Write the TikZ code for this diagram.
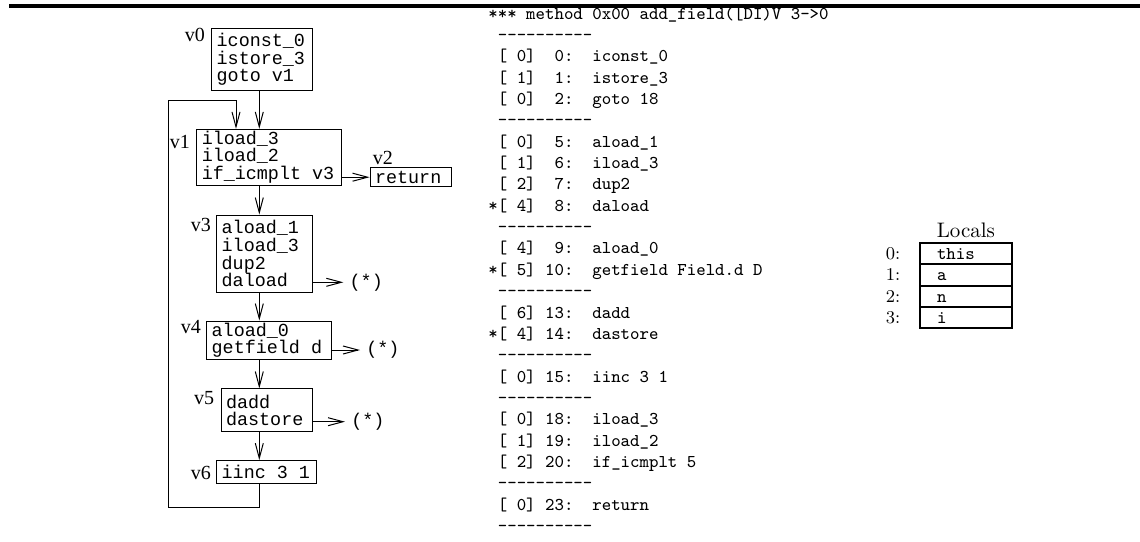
\documentclass[tikz,border=0pt]{standalone}
\usepackage{fontspec}
\usepackage{tikz}
\usetikzlibrary{arrows.meta, positioning, calc}
\newfontfamily\codefont{Liberation Mono}
\newfontfamily\lblfont{Liberation Serif}
\newcommand{\dashrow}{~-\kern0pt-\kern0pt-\kern0pt-\kern0pt-\kern0pt-\kern0pt-\kern0pt-\kern0pt-\kern0pt-}
\newcommand{\gap}{\hphantom{0}}

\begin{document}
\begin{tikzpicture}[x=0.5pt, y=-0.5pt,
  blk/.style={draw, line width=0.5pt, align=left, inner xsep=2.5pt, inner ysep=0pt,
    font=\fontsize{9.2}{8.85}\selectfont\codefont},
  vlbl/.style={font=\fontsize{10}{12}\selectfont\lblfont, inner sep=0pt, anchor=base east},
  star/.style={font=\fontsize{9.2}{11}\selectfont\codefont, inner sep=3pt, anchor=west},
  arr/.style={line width=0.5pt, -{Straight Barb[length=7.5pt, width=4pt]}},
  lst/.style={font=\fontsize{9}{11}\selectfont\ttfamily, inner sep=0pt, anchor=base west},
  cell/.style={draw, line width=1pt, minimum width=45.85pt, minimum height=10.7pt,
    text width=28.85pt, align=left, inner xsep=8.5pt, inner ysep=0pt,
    text height=6pt, text depth=0pt, font=\fontsize{9}{11}\selectfont\ttfamily},
  idx/.style={font=\fontsize{9}{11}\selectfont, inner sep=0pt, anchor=base east}
]
  \useasboundingbox (0,0) rectangle (1140,541);

  % rule on top
  \draw[line width=2pt] (9.3,6) -- (1140,6);

  % basic blocks
  \node[blk, text width=45.5pt, minimum height=31.2pt] (v0) at (262.2,59.5) {iconst\_0\\istore\_3\\goto\gap v1};
  \node[blk, text width=67.15pt, minimum height=27.85pt] (v1) at (268.9,157.2) {iload\_3\\iload\_2\\if\_icmplt\gap v3};
  \node[blk, text width=35.85pt, minimum height=9.5pt] (v2) at (410.9,177.2) {return};
  \node[blk, text width=42.8pt, minimum height=38.65pt] (v3) at (264.5,253.7) {aload\_1\\iload\_3\\dup2\\daload};
  \node[blk, text width=57.5pt, minimum height=19.15pt] (v4) at (269.2,340.2) {aload\_0\\getfield\gap d};
  \node[blk, text width=40.65pt, minimum height=21.35pt] (v5) at (266.7,410.3) {dadd\\dastore};
  \node[blk, text width=45pt, minimum height=11.65pt] (v6) at (266.7,472.3) {iinc\gap 3\gap 1};

  % block names
  \node[vlbl] (l0) at ([xshift=-3pt, yshift=-6.85pt]v0.north west) {v0};
  \node[vlbl] (l1) at ([xshift=-3pt, yshift=-9.85pt]v1.north west) {v1};
  \node[vlbl, anchor=base west] (l2) at ([xshift=1.5pt, yshift=1.6pt]v2.north west) {v2};
  \node[vlbl] (l3) at ([xshift=-2.5pt, yshift=-8.5pt]v3.north west) {v3};
  \node[vlbl] (l4) at ([xshift=-2.5pt, yshift=-6.5pt]v4.north west) {v4};
  \node[vlbl] (l5) at ([xshift=-3pt, yshift=-8pt]v5.north west) {v5};
  \node[vlbl] (l6) at ([xshift=-2.5pt, yshift=-9.65pt]v6.north west) {v6};

  % control flow
  \coordinate (spine) at (259.3,0);
  \foreach \a/\b in {v0/v1, v1/v3, v3/v4, v4/v5, v5/v6}
    \draw[arr] (\a.south -| spine) -- (\b.north -| spine);
  \draw[arr] (v1.east |- v2.west) -- (v2.west);
  \coordinate (back) at (168.3,507.7);
  \coordinate (entry) at (236,100.7);
  \draw[arr] (v6.south -| spine) |- (back) |- (entry) -- (entry |- v1.north);

  % exception edges
  \node[star] (s3) at (343.3,282.3) {(*)};
  \node[star] (s4) at (360,350) {(*)};
  \node[star] (s5) at (345,421.7) {(*)};
  \draw[arr] (v3.east |- s3.west) -- (s3.west);
  \draw[arr] (v4.east |- s4.west) -- (s4.west);
  \draw[arr] (v5.east |- s5.west) -- (s5.west);

  % bytecode listing
  \foreach \t [count=\k from 0] in {
      {*** method 0x00 add\_field([DI)V 3->0}, {\dashrow},
      {~[~0]~~0:~~iconst\_0}, {~[~1]~~1:~~istore\_3}, {~[~0]~~2:~~goto~18}, {\dashrow},
      {~[~0]~~5:~~aload\_1}, {~[~1]~~6:~~iload\_3}, {~[~2]~~7:~~dup2}, {*[~4]~~8:~~daload}, {\dashrow},
      {~[~4]~~9:~~aload\_0}, {*[~5]~10:~~getfield~Field.d~D}, {\dashrow},
      {~[~6]~13:~~dadd}, {*[~4]~14:~~dastore}, {\dashrow},
      {~[~0]~15:~~iinc~3~1}, {\dashrow},
      {~[~0]~18:~~iload\_3}, {~[~1]~19:~~iload\_2}, {~[~2]~20:~~if\_icmplt~5}, {\dashrow},
      {~[~0]~23:~~return}, {\dashrow}}
    \node[lst] (r\k) at (488, 19+21.36*\k) {\t};

  % locals
  \foreach \v [count=\i from 0] in {this, a, n, i} {
    \node[cell] (c\i) at (965.85, 253.4+21.4*\i) {\v};
    \node[idx] (n\i) at ([xshift=-9.2pt]c\i.base west) {\i:};
  }
  \node[font=\fontsize{10.5}{12}\selectfont, anchor=south, inner sep=2pt] (loc) at (c0.north) {Locals};
\end{tikzpicture}
\end{document}
